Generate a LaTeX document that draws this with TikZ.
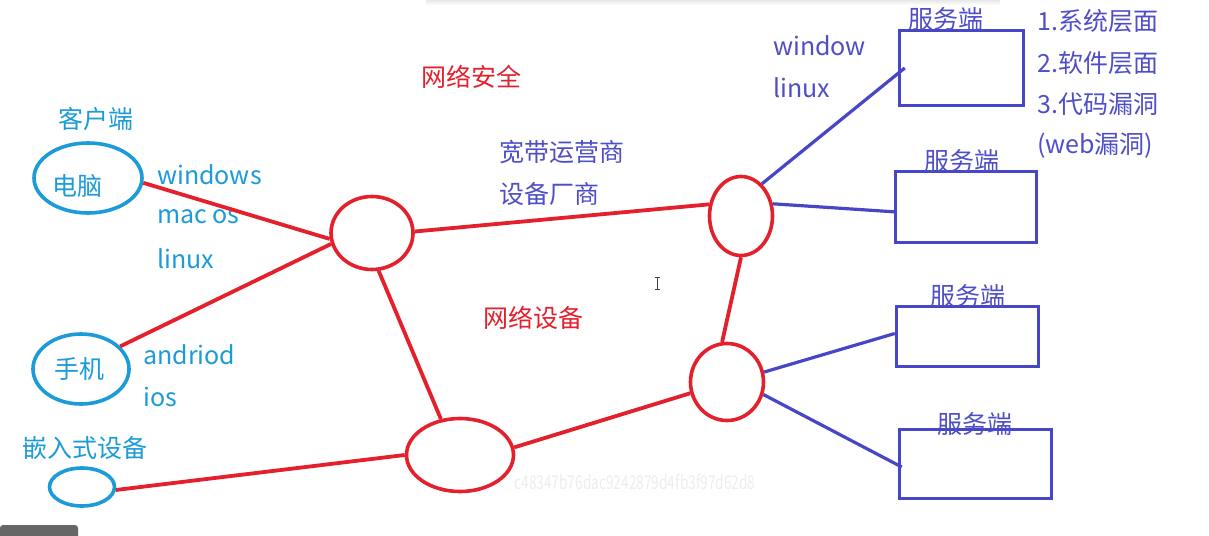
\documentclass[tikz,border=0pt]{standalone}
\usepackage{fontspec}
\setmainfont{Noto Sans CJK SC}
\usetikzlibrary{shapes.geometric,calc}
\definecolor{cli}{HTML}{1B9BD7}
\definecolor{net}{HTML}{E4202C}
\definecolor{srv}{HTML}{4646C6}
\definecolor{srvt}{HTML}{4E4EC8}
\tikzset{
  cliell/.style={ellipse,draw=cli,line width=3.6pt,inner sep=0pt},
  netell/.style={ellipse,draw=net,line width=3.6pt,inner sep=0pt},
  srvbox/.style={rectangle,draw=srv,line width=3.5pt,inner sep=0pt},
  netline/.style={draw=net,line width=3.8pt},
  srvline/.style={draw=srv,line width=3.2pt},
  clitxt/.style={text=cli,font=\fontsize{25}{28}\selectfont,inner sep=0pt},
  nettxt/.style={text=net,font=\fontsize{25}{28}\selectfont,inner sep=0pt},
  srvtxt/.style={text=srvt,font=\fontsize{25}{28}\selectfont,inner sep=0pt},
}
\begin{document}
\begin{tikzpicture}[x=1pt,y=-1pt]
\useasboundingbox[fill=white] (0,0) rectangle (1209,535);
% faint decorations
\shade[top color=black!9,bottom color=white] (426,0) rectangle (1000,5);
\fill[black!60,rounded corners=3pt] (0,525) rectangle (78,545);
\node[text=black!7,font=\fontsize{19}{20}\selectfont,inner sep=0pt,xscale=0.72] (wm) at (635,482) {c48347b76dac9242879d4fb3f97d62d8};
% cursor
\draw[black!75,line width=1pt] (657,277) -- (657,289) (654.5,277) -- (659.5,277) (654.5,289) -- (659.5,289);

% client nodes
\node[cliell,minimum width=108pt,minimum height=70pt] (pc) at (88,178) {};
\node[cliell,minimum width=96pt,minimum height=70pt] (ph) at (81,369) {};
\node[cliell,minimum width=65pt,minimum height=38pt] (em) at (82,487) {};
\node[clitxt] (tpc) at (77,186) {电脑};
\node[clitxt] (tph) at (79,369) {手机};
\node[clitxt] (tkh) at (96,119) {客户端};
\node[clitxt] (tem) at (85,448) {嵌入式设备};
\node[clitxt,anchor=west] (os1) at (157,175) {windows};
\node[clitxt,anchor=west] (os2) at (157,217) {mac os};
\node[clitxt,anchor=west] (os3) at (157,259) {linux};
\node[clitxt,anchor=west] (os4) at (143,355) {andriod};
\node[clitxt,anchor=west] (os5) at (143,397) {ios};

% network nodes
\node[netell,minimum width=82pt,minimum height=73pt] (ra) at (372,233) {};
\node[netell,minimum width=107pt,minimum height=73pt] (rb) at (460,455) {};
\node[netell,minimum width=63pt,minimum height=79pt] (rc) at (741,216) {};
\node[netell,minimum width=73pt,minimum height=77pt] (rd) at (727,382) {};
\node[nettxt] (sec) at (471,77) {网络安全};
\node[nettxt] (dev) at (533,318) {网络设备};
\node[srvtxt,anchor=west] (isp) at (499,152) {宽带运营商};
\node[srvtxt,anchor=west] (ven) at (499,194) {设备厂商};

% servers
\node[srvbox,minimum width=124pt,minimum height=75pt] (s1) at (961.5,68) {};
\node[srvbox,minimum width=141pt,minimum height=71pt] (s2) at (966,207) {};
\node[srvbox,minimum width=142pt,minimum height=60pt] (s3) at (967.5,336.5) {};
\node[srvbox,minimum width=152pt,minimum height=69pt] (s4) at (975.5,464) {};
\node[srvtxt] (l1) at (946,19) {服务端};
\node[srvtxt] (l2) at (962,161) {服务端};
\node[srvtxt] (l3) at (968,296) {服务端};
\node[srvtxt] (l4) at (975,424) {服务端};
\node[srvtxt,anchor=west] (w1) at (773,46) {window};
\node[srvtxt,anchor=west] (w2) at (773,88) {linux};
\node[srvtxt,anchor=west] (n1) at (1037,21) {1.系统层面};
\node[srvtxt,anchor=west] (n2) at (1037,63) {2.软件层面};
\node[srvtxt,anchor=west] (n3) at (1037,104) {3.代码漏洞};
\node[srvtxt,anchor=west] (n4) at (1037,146) {(web漏洞)};

% red connectors
\draw[netline] (pc.-5) -- (ra.-172);
\draw[netline] (ph.30) -- (ra.-165);
\draw[netline] (ra.-80) -- (rb.118);
\draw[netline] (ra.2) -- (rc.160);
\draw[netline] (em.-5) -- (rb.180);
\draw[netline] (rb.8) -- (rd.197);
\draw[netline] (rc.-90) -- (rd.97);
% blue connectors
\draw[srvline] (rc.57) -- ($(s1.west)+(7,0)$);
\draw[srvline] (rc.21) -- ($(s2.west)+(3,5)$);
\draw[srvline] (rd.15) -- ($(s3.west)+(0,-3)$);
\draw[srvline] (rd.-19) -- ($(s4.west)+(4,3)$);
\end{tikzpicture}
\end{document}
